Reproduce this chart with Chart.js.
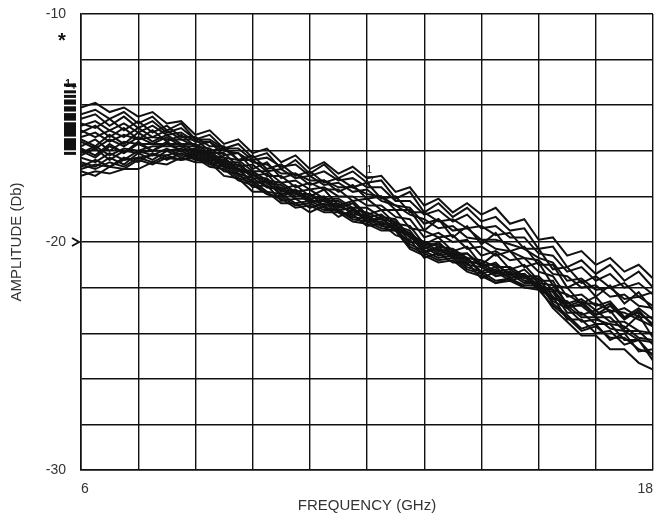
<!DOCTYPE html>
<html>
<head>
<meta charset="utf-8">
<script src="https://cdn.jsdelivr.net/npm/chart.js@4.4.0/dist/chart.umd.min.js"></script>
<style>
  html, body { margin: 0; padding: 0; background: #fff; }
  #wrap { width: 657px; height: 516px; }
</style>
</head>
<body>
<div id="wrap"><canvas id="graph1" width="657" height="516"></canvas></div>
<script>
// frequency points (GHz)
var freqGHz = [6.0, 6.3, 6.6, 6.9, 7.2, 7.5, 7.8, 8.1, 8.4, 8.7, 9.0, 9.3, 9.6, 9.9, 10.2, 10.5, 10.8, 11.1, 11.4, 11.7,
               12.0, 12.3, 12.6, 12.9, 13.2, 13.5, 13.8, 14.1, 14.4, 14.7, 15.0, 15.3, 15.6, 15.9, 16.2, 16.5, 16.8, 17.1, 17.4, 17.7, 18.0];

// amplitude traces (dB)
var trace01 = [-14.1, -13.9, -14.3, -14.1, -14.5, -14.3, -14.8, -14.7, -15.3, -15.1, -15.7, -15.5, -16.1, -15.9, -16.5, -16.2, -16.8, -16.5, -17.0, -16.7,
               -17.2, -17.1, -17.8, -17.6, -18.4, -18.1, -18.7, -18.3, -18.8, -18.5, -19.2, -19.0, -19.9, -19.8, -20.6, -20.4, -21.0, -20.7, -21.3, -21.0, -21.6];
var trace02 = [-14.4, -14.2, -14.6, -14.3, -14.8, -14.5, -15.1, -14.8, -15.5, -15.3, -15.9, -15.7, -16.3, -16.1, -16.8, -16.4, -17.0, -16.6, -17.2, -16.9,
               -17.4, -17.3, -18.1, -17.8, -18.7, -18.3, -18.9, -18.5, -19.1, -18.9, -19.5, -19.4, -20.3, -20.2, -21.1, -20.8, -21.4, -21.0, -21.7, -21.3, -22.0];
var trace03 = [-14.8, -15.0, -14.6, -15.1, -14.7, -15.2, -14.9, -15.4, -15.4, -15.8, -15.8, -16.4, -16.2, -16.8, -16.6, -17.1, -16.9, -17.4, -17.2, -17.6,
               -17.4, -18.1, -18.0, -18.7, -18.7, -19.1, -19.0, -19.4, -19.3, -19.7, -19.6, -20.3, -20.3, -21.2, -21.1, -21.8, -21.5, -22.0, -21.8, -22.4, -22.2];
var trace04 = [-15.2, -14.9, -15.4, -15.0, -15.5, -15.1, -15.6, -15.3, -15.8, -15.6, -16.2, -16.1, -16.8, -16.5, -17.2, -17.0, -17.5, -17.3, -17.8, -17.5,
               -18.1, -18.0, -18.6, -18.6, -19.5, -19.0, -19.8, -19.3, -20.1, -19.6, -20.4, -20.2, -21.0, -21.0, -22.0, -21.7, -22.4, -21.9, -22.7, -22.2, -23.0];
var trace05 = [-15.5, -15.8, -15.3, -15.7, -15.2, -15.6, -15.3, -15.7, -15.7, -16.1, -16.1, -16.7, -16.6, -17.1, -17.1, -17.6, -17.4, -17.7, -17.7, -18.2,
               -18.1, -18.6, -18.6, -19.4, -19.5, -19.8, -19.7, -20.3, -20.2, -20.6, -20.4, -21.1, -20.9, -21.9, -22.0, -22.7, -22.4, -23.1, -22.9, -23.3, -23.3];
var trace06 = [-15.8, -15.5, -16.0, -15.6, -15.7, -15.7, -15.7, -15.7, -16.0, -16.0, -16.5, -16.5, -17.1, -17.0, -17.7, -17.5, -18.0, -17.7, -18.4, -18.2,
               -18.8, -18.6, -19.2, -19.3, -20.1, -19.8, -20.4, -20.2, -21.0, -20.5, -21.2, -21.0, -21.7, -21.7, -22.8, -22.6, -23.2, -23.0, -23.8, -23.2, -24.2];
var trace07 = [-16.0, -16.3, -15.8, -16.1, -15.7, -16.0, -15.6, -16.0, -15.9, -16.3, -16.4, -16.9, -17.0, -17.6, -17.6, -18.0, -17.9, -18.4, -18.3, -18.8,
               -18.8, -19.2, -19.2, -20.0, -20.1, -20.5, -20.4, -20.9, -20.9, -21.3, -21.2, -21.6, -21.6, -22.4, -22.8, -23.3, -23.3, -23.8, -23.9, -24.3, -24.4];
var trace08 = [-16.2, -15.9, -16.4, -16.0, -16.1, -16.0, -16.0, -15.9, -16.2, -16.2, -16.7, -16.8, -17.4, -17.3, -18.0, -17.8, -18.3, -18.1, -18.6, -18.5,
               -19.1, -18.9, -19.5, -19.7, -20.5, -20.2, -20.7, -20.7, -21.4, -21.2, -21.6, -21.4, -22.0, -22.1, -22.9, -22.7, -23.2, -22.8, -23.4, -23.0, -23.7];
var trace09 = [-16.5, -16.7, -16.3, -16.6, -16.1, -16.4, -16.0, -16.3, -16.1, -16.5, -16.6, -17.1, -17.3, -17.8, -17.9, -18.3, -18.2, -18.5, -18.6, -18.9,
               -19.0, -19.3, -19.4, -20.1, -20.4, -20.7, -20.6, -21.1, -21.3, -21.7, -21.6, -21.9, -21.9, -22.6, -22.9, -23.5, -23.4, -23.6, -23.7, -24.2, -24.3];
var trace10 = [-16.7, -16.4, -16.7, -16.3, -16.5, -16.1, -16.4, -16.1, -16.4, -16.4, -16.9, -17.0, -17.6, -17.5, -18.2, -18.1, -18.5, -18.3, -18.7, -18.8,
               -19.3, -19.2, -19.7, -19.9, -20.7, -20.5, -20.9, -20.9, -21.6, -21.3, -21.7, -21.5, -22.1, -22.4, -23.4, -23.4, -24.0, -23.9, -24.5, -24.3, -25.0];
var trace11 = [-16.9, -17.1, -16.7, -16.8, -16.4, -16.6, -16.3, -16.4, -16.3, -16.7, -16.8, -17.3, -17.5, -17.9, -18.1, -18.5, -18.4, -18.7, -18.7, -19.1,
               -19.2, -19.5, -19.5, -20.3, -20.6, -20.9, -20.8, -21.3, -21.5, -21.8, -21.7, -22.0, -22.0, -22.9, -23.5, -24.1, -24.1, -24.7, -24.7, -25.3, -25.6];
var trace12 = [-17.1, -16.9, -17.0, -16.8, -16.8, -16.5, -16.6, -16.3, -16.5, -16.5, -17.1, -17.2, -17.8, -17.8, -18.3, -18.3, -18.7, -18.4, -18.9, -18.6,
               -19.1, -19.1, -19.5, -19.6, -20.1, -20.1, -20.5, -20.5, -21.0, -21.0, -21.4, -21.4, -21.9, -22.1, -22.8, -22.8, -23.3, -23.3, -23.9, -23.9, -24.5];
var trace13 = [-15.1, -15.4, -15.1, -15.4, -15.0, -15.4, -15.1, -15.5, -15.5, -16.0, -15.9, -16.4, -16.4, -16.9, -16.8, -17.2, -17.1, -17.5, -17.4, -17.8,
               -17.7, -18.2, -18.4, -18.8, -19.0, -19.4, -19.3, -19.8, -19.9, -20.3, -20.4, -20.7, -20.8, -21.4, -21.5, -22.0, -21.9, -22.4, -22.3, -22.8, -22.9];
var trace14 = [-15.9, -16.2, -15.7, -16.1, -15.6, -16.0, -15.7, -16.0, -15.9, -16.3, -16.4, -16.8, -17.0, -17.4, -17.5, -17.9, -17.9, -18.2, -18.2, -18.6,
               -18.7, -19.0, -19.1, -19.7, -20.0, -20.2, -20.3, -20.7, -20.8, -21.1, -21.1, -21.5, -21.5, -22.1, -22.3, -22.7, -22.7, -23.0, -23.1, -23.4, -23.7];
var trace15 = [-16.8, -16.6, -16.7, -16.4, -16.3, -16.2, -16.2, -16.0, -16.3, -16.3, -16.7, -16.8, -17.4, -17.4, -17.9, -17.8, -18.2, -18.2, -18.6, -18.5,
               -19.0, -19.0, -19.4, -19.6, -20.4, -20.3, -20.7, -20.7, -21.3, -21.1, -21.6, -21.4, -22.0, -22.2, -23.1, -23.1, -23.6, -23.6, -24.3, -24.3, -25.2];
var trace16 = [-14.6, -14.4, -14.9, -14.5, -15.0, -14.7, -15.2, -15.0, -15.5, -15.5, -15.9, -15.9, -16.4, -16.3, -16.7, -16.6, -17.1, -16.9, -17.3, -17.2,
               -17.6, -17.6, -18.2, -18.2, -18.8, -18.6, -19.1, -18.8, -19.4, -19.3, -19.8, -19.8, -20.5, -20.6, -21.3, -21.1, -21.7, -21.4, -22.0, -21.8, -22.3];
var trace17 = [-15.4, -15.2, -15.6, -15.3, -15.5, -15.4, -15.5, -15.5, -15.8, -15.9, -16.3, -16.4, -16.9, -16.9, -17.4, -17.3, -17.7, -17.6, -18.0, -18.0,
               -18.4, -18.4, -18.9, -19.0, -19.8, -19.6, -20.0, -19.9, -20.6, -20.4, -20.8, -20.7, -21.3, -21.5, -22.4, -22.3, -22.8, -22.6, -23.3, -23.1, -23.6];
var trace18 = [-16.3, -16.5, -16.1, -16.4, -16.0, -16.2, -15.9, -16.2, -16.0, -16.4, -16.5, -17.0, -17.2, -17.6, -17.7, -18.1, -18.1, -18.4, -18.4, -18.7,
               -18.9, -19.2, -19.3, -19.8, -20.2, -20.6, -20.5, -21.0, -21.1, -21.5, -21.4, -21.8, -21.8, -22.5, -22.6, -23.2, -23.0, -23.5, -23.5, -23.9, -24.0];
var trace19 = [-14.9, -14.7, -15.1, -14.8, -15.2, -14.9, -15.3, -15.2, -15.6, -15.6, -16.0, -16.1, -16.5, -16.6, -17.0, -17.0, -17.3, -17.3, -17.6, -17.6,
               -17.9, -18.0, -18.4, -18.5, -19.2, -19.0, -19.5, -19.4, -19.9, -19.9, -20.1, -20.3, -20.7, -20.9, -21.7, -21.6, -22.1, -22.0, -22.5, -22.4, -22.8];
var trace20 = [-16.1, -15.8, -16.2, -15.9, -16.0, -15.8, -15.8, -15.8, -16.1, -16.1, -16.6, -16.6, -17.2, -17.2, -17.8, -17.7, -18.1, -18.0, -18.5, -18.3,
               -18.9, -18.8, -19.3, -19.5, -20.3, -20.0, -20.6, -20.5, -21.1, -20.9, -21.5, -21.2, -21.8, -21.9, -22.7, -22.5, -23.0, -22.7, -23.3, -22.9, -23.4];
var trace21 = [-15.6, -15.9, -15.5, -15.8, -15.4, -15.7, -15.4, -15.8, -15.8, -16.2, -16.3, -16.8, -16.9, -17.3, -17.4, -17.8, -17.7, -18.1, -18.1, -18.5,
               -18.5, -18.9, -19.0, -19.8, -20.0, -20.4, -20.3, -20.8, -21.0, -21.4, -21.3, -21.7, -21.8, -22.7, -23.2, -23.8, -23.6, -24.3, -24.0, -24.8, -24.7];
var trace22 = [-16.6, -16.8, -16.5, -16.7, -16.3, -16.5, -16.2, -16.4, -16.2, -16.6, -16.7, -17.2, -17.4, -17.9, -18.0, -18.4, -18.3, -18.6, -18.6, -19.0,
               -19.1, -19.4, -19.5, -20.2, -20.5, -20.8, -20.7, -21.2, -21.4, -21.8, -21.6, -22.0, -22.1, -22.8, -23.3, -23.9, -23.7, -24.2, -24.2, -24.7, -24.9];

var traces = [trace01, trace02, trace03, trace04, trace05, trace06, trace07, trace08, trace09, trace10, trace11,
              trace12, trace13, trace14, trace15, trace16, trace17, trace18, trace19, trace20, trace21, trace22];

// tick labels shown on the axes
var yLabels = [-10, -20, -30];
var xLabels = [6, 18];

var textFont = '"Liberation Sans", Arial, sans-serif';
var ink = '#111';

// ================================================================

// little trace markers, the "*" and the ">" at -20
var markerPlugin = {
    id: 'markers',
    afterDatasetsDraw: function(chart) {
        var ctx = chart.ctx;
        var area = chart.chartArea;
        var x = chart.scales.x;
        var y = chart.scales.y;
        ctx.save();
        ctx.fillStyle = ink;
        ctx.strokeStyle = ink;

        traces.forEach(function(t) {
            var py = y.getPixelForValue(t[0]) - 22;
            ctx.fillRect(area.left - 17, py - 2, 12, 3);
        });
        ctx.font = 'bold 10px ' + textFont;
        ctx.textAlign = 'center';
        ctx.textBaseline = 'middle';
        ctx.fillText('1', area.left - 13, y.getPixelForValue(-13.1));
        ctx.fillText('+', area.left - 7, y.getPixelForValue(-13.2));

        ctx.font = 'bold 20px ' + textFont;
        ctx.fillText('*', area.left - 19, y.getPixelForValue(-11.05) + 4);

        // chevron at -20
        var p20 = y.getPixelForValue(-20);
        ctx.lineWidth = 2;
        ctx.beginPath();
        ctx.moveTo(area.left - 9, p20 - 4);
        ctx.lineTo(area.left - 2, p20);
        ctx.lineTo(area.left - 9, p20 + 4);
        ctx.stroke();

        // small marker near 12 GHz
        var mx = x.getPixelForValue(12.05);
        var my = y.getPixelForValue(-17.05);
        ctx.font = '10px ' + textFont;
        ctx.fillText('1', mx, my - 4);
        ctx.lineWidth = 1;
        ctx.beginPath();
        ctx.moveTo(mx - 4, my + 2);
        ctx.lineTo(mx + 4, my + 2);
        ctx.lineTo(mx, my + 9);
        ctx.closePath();
        ctx.stroke();
        ctx.restore();
    }
};

var ctx = document.getElementById('graph1').getContext('2d');

var datasets = traces.map(function(t, i) {
    return {
        label: 'Trace ' + (i + 1),
        data: freqGHz.map(function(f, k) { return { x: f, y: t[k] }; }),
        borderColor: ink,
        borderWidth: 2,
        pointRadius: 0,
        fill: false,
        tension: 0
    };
});

var config = {
    type: 'line',
    data: { datasets: datasets },
    options: {
        responsive: false,
        animation: false,
        layout: { padding: { top: 14, right: 4, left: 0, bottom: 0 } },
        plugins: {
            legend: { display: false },
            tooltip: { enabled: false }
        },
        scales: {
            x: {
                type: 'linear',
                min: 6,
                max: 18,
                afterFit: function(scale) {
                    scale.height = 46;
                    scale.paddingLeft = 0;
                    scale.paddingRight = 0;
                },
                grid: { color: ink, lineWidth: 1.4, drawTicks: false },
                border: { color: ink, width: 1.6 },
                ticks: {
                    stepSize: 1.2,
                    autoSkip: false,
                    maxRotation: 0,
                    align: 'inner',
                    padding: 11,
                    color: '#333',
                    font: { family: textFont, size: 14 },
                    callback: function(v) {
                        for (var i = 0; i < xLabels.length; i++) {
                            if (Math.abs(v - xLabels[i]) < 1e-6) return String(xLabels[i]);
                        }
                        return '';
                    }
                },
                title: {
                    display: true,
                    text: 'FREQUENCY (GHz)',
                    color: '#333',
                    font: { family: textFont, size: 15 },
                    padding: { top: 0, bottom: 1 }
                }
            },
            y: {
                min: -30,
                max: -10,
                afterFit: function(scale) {
                    scale.width = 81;
                    scale.paddingTop = 0;
                    scale.paddingBottom = 0;
                },
                grid: { color: ink, lineWidth: 1.4, drawTicks: false },
                border: { color: ink, width: 1.6 },
                ticks: {
                    stepSize: 2,
                    autoSkip: false,
                    padding: 15,
                    color: '#333',
                    font: { family: textFont, size: 14 },
                    callback: function(v) {
                        for (var i = 0; i < yLabels.length; i++) {
                            if (Math.abs(v - yLabels[i]) < 1e-6) return String(yLabels[i]);
                        }
                        return '';
                    }
                },
                title: {
                    display: true,
                    text: 'AMPLITUDE (Db)',
                    color: '#333',
                    font: { family: textFont, size: 15 },
                    padding: { top: 8, bottom: 0 }
                }
            }
        }
    },
    plugins: [markerPlugin]
};

var graph1 = new Chart(ctx, config);
</script>
</body>
</html>
